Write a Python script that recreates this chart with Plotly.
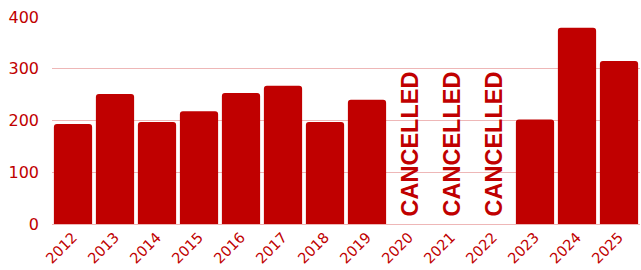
import plotly.graph_objects as go

years = ["2012", "2013", "2014", "2015", "2016", "2017", "2018", "2019",
         "2020", "2021", "2022", "2023", "2024", "2025"]
values = [193, 251, 197, 218, 253, 267, 197, 240, None, None, None, 202, 379, 315]
cancelled_years = ["2020", "2021", "2022"]
cancelled_label = "CANCELLED"
y_ticks = [0, 100, 200, 300, 400]

RED = "#c00000"
GRID = "rgba(205,50,50,0.35)"

fig = go.Figure()
fig.add_trace(go.Bar(
    x=years, y=values,
    marker=dict(color=RED, cornerradius=3, line=dict(width=0)),
    hoverinfo="x+y",
))

for yr in cancelled_years:
    fig.add_annotation(
        x=years.index(yr), y=0, text=cancelled_label, textangle=-90,
        showarrow=False, xanchor="center", yanchor="bottom", yshift=5,
        font=dict(family="Liberation Sans, Arial, sans-serif", size=23.5, color=RED, weight="bold"),
    )

fig.update_layout(
    width=641, height=270,
    margin=dict(l=52, r=1, t=17, b=46, autoexpand=False),
    paper_bgcolor="white", plot_bgcolor="white",
    bargap=0.09,
    showlegend=False,
    font=dict(family="DejaVu Sans, sans-serif", color=RED, size=16),
)
fig.update_xaxes(
    type="category", categoryorder="array", categoryarray=years,
    range=[-0.5, len(years) - 0.5], tickangle=-45, showgrid=False, showline=False,
    ticks="", tickfont=dict(size=14.5, color=RED), automargin=False, ticklabelstandoff=1,
)
fig.update_yaxes(
    range=[0, 400], tickvals=y_ticks, showgrid=True, gridcolor=GRID, gridwidth=1,
    zeroline=True, zerolinecolor=GRID, zerolinewidth=1, showline=False,
    ticks="", tickfont=dict(size=16, color=RED), ticklabelstandoff=12, automargin=False,
)

fig.write_html(
    "out.html",
    config={"displayModeBar": False},
    post_script="document.body.style.margin='0';document.body.style.overflow='hidden';",
)
